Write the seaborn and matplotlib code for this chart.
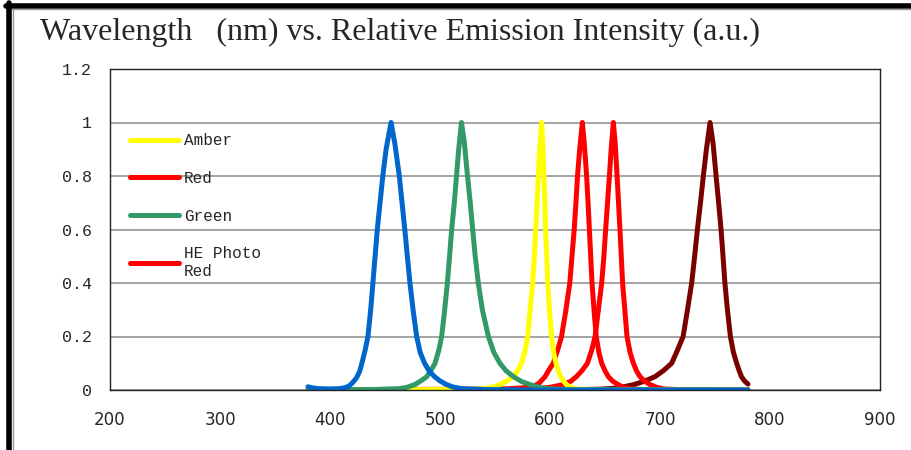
import matplotlib
matplotlib.use("Agg")
import matplotlib.pyplot as plt
import seaborn as sns
import pandas as pd
from matplotlib.lines import Line2D
from matplotlib.ticker import FormatStrFormatter

# wavelength (nm) / relative intensity pairs
blue_nm = [380, 384, 390, 400, 408, 413, 417, 420, 424, 427, 429, 432, 434.5, 437, 439, 441, 443,
           445.5, 448, 451, 455.5, 459, 463, 465.5, 468, 470.3, 472.7, 475.5, 478.8, 482, 486, 490,
           495, 500, 506, 512, 520, 540, 580, 780]
blue_val = [0.012, 0.008, 0.005, 0.004, 0.005, 0.008, 0.014, 0.025, 0.045, 0.07, 0.1, 0.15, 0.2, 0.3,
            0.4, 0.5, 0.6, 0.7, 0.8, 0.9, 1.0, 0.92, 0.8, 0.7, 0.6, 0.5, 0.4, 0.3, 0.2, 0.14, 0.1,
            0.072, 0.05, 0.034, 0.02, 0.011, 0.005, 0.002, 0.0, 0.0]

green_nm = [380, 440, 463, 470, 477, 483, 488, 492, 495.5, 499, 501.5, 504, 506.7, 508.7, 510.6, 513,
            515, 517, 519.5, 522, 525, 527.5, 529.7, 532, 534.8, 538.5, 544, 549, 554.5, 560, 566.7,
            574, 582, 590, 597, 620, 780]
green_val = [0.0, 0.002, 0.005, 0.01, 0.02, 0.035, 0.05, 0.075, 0.1, 0.15, 0.2, 0.29, 0.4, 0.5, 0.6,
             0.7, 0.8, 0.9, 1.0, 0.93, 0.8, 0.7, 0.6, 0.5, 0.4, 0.3, 0.2, 0.14, 0.1, 0.072, 0.05,
             0.032, 0.02, 0.01, 0.005, 0.001, 0.0]

amber_nm = [380, 520, 539, 547, 554.5, 561, 566.7, 571, 574.2, 577.5, 579.7, 582, 584.2, 585.8, 587,
            588.3, 589.4, 590.6, 592.4, 593.5, 594.5, 595.3, 596, 597, 598, 599.5, 601.5, 603.3,
            605.5, 607.5, 609.7, 612, 615, 619, 624, 640, 780]
amber_val = [0.0, 0.002, 0.005, 0.01, 0.02, 0.035, 0.05, 0.075, 0.1, 0.15, 0.2, 0.3, 0.4, 0.5, 0.6,
             0.7, 0.8, 0.9, 1.0, 0.92, 0.8, 0.7, 0.6, 0.5, 0.4, 0.3, 0.2, 0.14, 0.1, 0.072, 0.05,
             0.035, 0.02, 0.01, 0.004, 0.001, 0.0]

red_nm = [380, 560, 575, 585, 590, 595.5, 599, 603, 607, 610.5, 614.5, 618, 620, 622, 623.6, 625, 627,
          629.4, 631, 633.3, 634.6, 635.8, 637, 638.2, 640, 642, 644.5, 647, 650, 653, 657, 662, 667,
          673, 690, 780]
red_val = [0.0, 0.004, 0.008, 0.014, 0.025, 0.05, 0.075, 0.1, 0.15, 0.2, 0.3, 0.4, 0.5, 0.6, 0.7,
           0.8, 0.9, 1.0, 0.93, 0.8, 0.7, 0.6, 0.5, 0.4, 0.3, 0.2, 0.14, 0.1, 0.072, 0.05, 0.033,
           0.02, 0.01, 0.004, 0.001, 0.0]

photo_nm = [380, 580, 600, 612, 619, 624, 629, 634, 638, 641, 644, 647, 649, 650.6, 652.3, 654, 655.6,
            657.6, 659.3, 661, 662.3, 663.6, 664.8, 666, 668, 670, 672.8, 675.8, 678.6, 681.8, 686,
            691, 697, 703, 720, 780]
photo_val = [0.0, 0.003, 0.01, 0.02, 0.033, 0.05, 0.072, 0.1, 0.15, 0.2, 0.3, 0.4, 0.5, 0.6, 0.7,
             0.8, 0.9, 1.0, 0.92, 0.8, 0.7, 0.6, 0.5, 0.4, 0.3, 0.2, 0.14, 0.1, 0.072, 0.05, 0.033,
             0.02, 0.01, 0.004, 0.001, 0.0]

far_nm = [380, 620, 645, 657, 667, 676, 686, 695.5, 703, 710.6, 716, 721, 725, 728.8, 731.5, 734,
          736.8, 739.4, 742.2, 745.5, 748.3, 751, 753.3, 755.5, 757.3, 759, 761.3, 764, 766.8, 769.7,
          772, 774, 777, 780]
far_val = [0.0, 0.001, 0.003, 0.006, 0.012, 0.02, 0.033, 0.05, 0.072, 0.1, 0.15, 0.2, 0.3, 0.4, 0.5,
           0.6, 0.7, 0.8, 0.9, 1.0, 0.92, 0.8, 0.7, 0.6, 0.5, 0.4, 0.3, 0.2, 0.14, 0.1, 0.072, 0.05,
           0.033, 0.022]

# (legend label, colour, x, y) in drawing order
series = [
    (None, "#7a0000", far_nm, far_val),
    ("HE Photo\nRed", "#ff0000", photo_nm, photo_val),
    ("Red", "#ff0000", red_nm, red_val),
    ("Amber", "#ffff00", amber_nm, amber_val),
    ("Green", "#339966", green_nm, green_val),
    (None, "#0066cc", blue_nm, blue_val),
]
legend_order = ["Amber", "Red", "Green", "HE Photo\nRed"]
LW = 3.6

sns.set_style("white")
plt.rcParams['font.family'] = ['Liberation Sans', 'DejaVu Sans']

fig = plt.figure(figsize=(9.11, 4.5), dpi=100)
ax = fig.add_axes([110 / 911, 60 / 450, 770 / 911, 321 / 450])

handles = {}
for label, color, xs, ys in series:
    df = pd.DataFrame({"nm": xs, "val": ys})
    sns.lineplot(data=df, x="nm", y="val", color=color, linewidth=LW,
                 estimator=None, sort=False, ax=ax, label="_nolegend_")
    if label:
        handles[label] = Line2D([0], [0], color=color, linewidth=LW)

ax.set_xlim(200, 900)
ax.set_ylim(0, 1.2)
ax.set_xticks(range(200, 901, 100))
ax.set_yticks([0, 0.2, 0.4, 0.6, 0.8, 1.0, 1.2])
ax.yaxis.set_major_formatter(FormatStrFormatter('%g'))
ax.set_xlabel("")
ax.set_ylabel("")
ax.grid(axis="y", color="#8c8c8c", linewidth=1.1)
ax.grid(axis="x", visible=False)
for sp in ax.spines.values():
    sp.set_color("#222222")
    sp.set_linewidth(1.0)
ax.tick_params(axis="both", direction="in", length=4, width=1, color="#222222")
ax.tick_params(axis="y", pad=13)
ax.tick_params(axis="x", pad=15)
for t in ax.get_yticklabels():
    t.set_fontfamily(['Liberation Mono', 'DejaVu Sans Mono'])
    t.set_fontsize(12)
for t in ax.get_xticklabels():
    t.set_fontfamily(['DejaVu Sans'])
    t.set_fontsize(12)

leg = ax.legend([handles[k] for k in legend_order], legend_order,
                loc="upper left", bbox_to_anchor=(0.015, 0.825), frameon=False,
                borderpad=0, handlelength=3.1, handletextpad=0.3, labelspacing=1.42,
                prop={'family': ['Liberation Mono', 'DejaVu Sans Mono'], 'size': 11.5})

fig.text(40 / 911, 1 - 40 / 450, "Wavelength   (nm) vs. Relative Emission Intensity (a.u.)",
         fontfamily=['Liberation Serif', 'DejaVu Serif'], fontsize=23, ha="left", va="baseline")

# outer frame (top and left edges visible)
fig.add_artist(Line2D([6 / 911, 1], [1 - 5.5 / 450, 1 - 5.5 / 450], transform=fig.transFigure,
                      color="black", linewidth=4))
fig.add_artist(Line2D([9 / 911, 9 / 911], [0, 1 - 3 / 450], transform=fig.transFigure,
                      color="black", linewidth=4))
fig.add_artist(Line2D([12 / 911, 1], [1 - 9 / 450, 1 - 9 / 450], transform=fig.transFigure,
                      color="#999999", linewidth=1))
fig.add_artist(Line2D([12.5 / 911, 12.5 / 911], [0, 1 - 9 / 450], transform=fig.transFigure,
                      color="#999999", linewidth=1))

fig.savefig("out.png", dpi=100)
